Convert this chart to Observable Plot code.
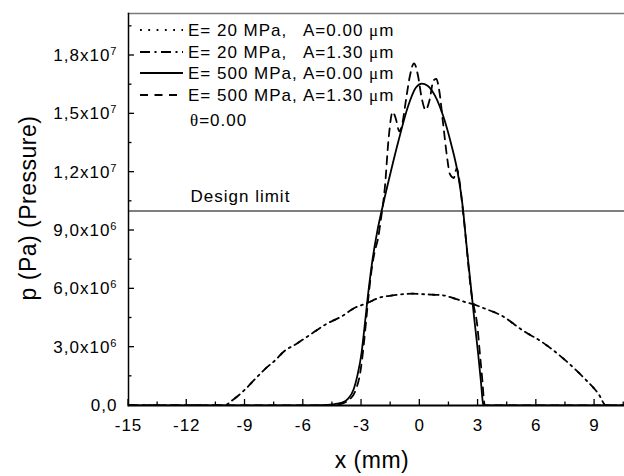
<!DOCTYPE html>
<html><head><meta charset="utf-8">
<script src="https://cdn.jsdelivr.net/npm/d3@7"></script>
<script src="https://cdn.jsdelivr.net/npm/@observablehq/plot@0.6"></script>
<style>
body{margin:0;background:#fff;}
#wrap{position:relative;width:624px;height:476px;overflow:hidden;}
#wrap svg{position:absolute;left:0;top:0;}
</style></head><body><div id="wrap"></div>
<script>
// ---- data (x in mm, p in Pa) ----
const seriesNames = ["E= 20 MPa,", "E= 20 MPa,", "E= 500 MPa,", "E= 500 MPa,"];
const seriesA = ["A=0.00", "A=1.30", "A=0.00", "A=1.30"];
const thetaText = "0.00";
const xTitle = "x (mm)";
const yTitle = "p (Pa) (Pressure)";
const designLabel = "Design limit";

// E=20 MPa, A=0.00 (dotted) – lies on top of the A=1.30 curve
const xDotted = [-15,-10.1,-9.6,-9.0,-8.5,-8.0,-7.4,-7.0,-6.4,-5.5,-4.85,-4.0,-3.3,-2.8,-2.0,-1.4,-0.4,0.6,1.1,1.8,2.3,2.7,3.3,4.2,5.3,6.3,7.5,8.5,9.2,9.6,15];
const pDotted = [0,0,0.31e6,0.82e6,1.34e6,1.85e6,2.37e6,2.78e6,3.14e6,3.74e6,4.17e6,4.6e6,5.05e6,5.23e6,5.57e6,5.66e6,5.75e6,5.70e6,5.68e6,5.5e6,5.33e6,5.23e6,5.0e6,4.63e6,3.86e6,3.26e6,2.32e6,1.37e6,0.6e6,0,0];

// E=20 MPa, A=1.30 (dash-dot)
const xDashDot = [-15,-10.1,-9.6,-9.0,-8.5,-8.0,-7.4,-7.0,-6.4,-5.5,-4.85,-4.0,-3.3,-2.8,-2.0,-1.4,-0.4,0.6,1.1,1.8,2.3,2.7,3.3,4.2,5.3,6.3,7.5,8.5,9.2,9.6,15];
const pDashDot = [0,0,0.31e6,0.82e6,1.34e6,1.85e6,2.37e6,2.78e6,3.14e6,3.74e6,4.17e6,4.6e6,5.05e6,5.23e6,5.57e6,5.66e6,5.75e6,5.70e6,5.68e6,5.5e6,5.33e6,5.23e6,5.0e6,4.63e6,3.86e6,3.26e6,2.32e6,1.37e6,0.6e6,0,0];

// E=500 MPa, A=0.00 (solid)
const xSolid = [-15,-6,-5,-4.5,-4,-3.7,-3.4,-3.2,-3.0,-2.85,-2.7,-2.45,-2.2,-1.9,-1.5,-1.1,-0.6,-0.2,0.1,0.4,0.8,1.2,1.6,2.0,2.2,2.4,2.6,2.8,3.0,3.15,3.24,3.28,15];
const pSolid = [0,0,0.02e6,0.06e6,0.15e6,0.34e6,0.85e6,1.6e6,2.7e6,4.0e6,5.4e6,7.4e6,8.9e6,1.03e7,1.2e7,1.36e7,1.54e7,1.635e7,1.655e7,1.645e7,1.59e7,1.49e7,1.35e7,1.17e7,1.03e7,8.3e6,6.4e6,4.5e6,2.7e6,1.2e6,0.2e6,0,0];

// E=500 MPa, A=1.30 (dashed)
const xDashed = [-15,-5,-4.2,-3.7,-3.3,-3.05,-2.9,-2.75,-2.6,-2.45,-2.3,-2.15,-2.0,-1.8,-1.6,-1.4,-1.25,-1.05,-0.9,-0.7,-0.5,-0.3,-0.1,0.1,0.3,0.5,0.7,0.85,1.0,1.2,1.4,1.55,1.75,1.9,2.05,2.2,2.35,2.5,2.65,2.8,2.95,3.1,3.22,3.3,3.35,15];
const pDashed = [0,0,0.05e6,0.25e6,0.8e6,1.8e6,3.0e6,4.5e6,6.0e6,7.2e6,8.0e6,8.6e6,9.6e6,1.12e7,1.38e7,1.51e7,1.48e7,1.41e7,1.45e7,1.58e7,1.7e7,1.76e7,1.7e7,1.58e7,1.52e7,1.57e7,1.67e7,1.68e7,1.62e7,1.45e7,1.28e7,1.19e7,1.17e7,1.22e7,1.15e7,1.02e7,8.8e6,7.2e6,5.8e6,5.0e6,4.2e6,2.6e6,1.3e6,0.3e6,0,0];

const designLimit = 1.0e7;
const xMajor = [-15,-12,-9,-6,-3,0,3,6,9];
const xMinor = [-13.5,-10.5,-7.5,-4.5,-1.5,1.5,4.5,7.5,10.5];
const yMajor = [0,3e6,6e6,9e6,1.2e7,1.5e7,1.8e7];
const yMinor = [1.5e6,4.5e6,7.5e6,1.05e7,1.35e7,1.65e7,1.95e7];
const yTickLabels = ["0,0","3,0x10^6","6,0x10^6","9,0x10^6","1,2x10^7","1,5x10^7","1,8x10^7"];

const toRows = (xs, ps) => xs.map((x, i) => ({x, p: ps[i]}));
// plot dash patterns (dotted one phased to sit inside the coincident dash-dot dashes)
const plotDash = ["2,19", "10,4.5,2,4.5", null, "8,6"];
const plotDashOffset = [-4, 0, 0, 0];
const legendDash = ["1.8,6.5", "10,4.5,2,4.5", null, "8,6.5"];
const allSeries = [[xDotted,pDotted],[xDashDot,pDashDot],[xSolid,pSolid],[xDashed,pDashed]];

const FONT = "'Liberation Sans', Arial, sans-serif";
const FS = 17, LS = "1px";
const chart = Plot.plot({
  width: 624, height: 476,
  marginLeft: 128, marginRight: 0, marginTop: 13, marginBottom: 71,
  style: {fontFamily: FONT, fontSize: FS + "px", color: "#000", background: "#fff", overflow: "visible", letterSpacing: LS},
  x: {domain: [-15, 10.54]},
  y: {domain: [0, 2.016e7]},
  marks: [
    Plot.frame({anchor: "top", stroke: "#7a7a7a", strokeWidth: 1.5}),
    Plot.ruleY([designLimit], {stroke: "#555", strokeWidth: 1.4}),
    Plot.text([designLimit], {y: d => d, frameAnchor: "left", dx: 62, dy: -15, text: () => designLabel, textAnchor: "start", fontSize: FS}),
    ...allSeries.map(([xs, ps], i) => Plot.line(toRows(xs, ps), {
      x: "x", y: "p", stroke: "#000", strokeWidth: 1.8, curve: "monotone-x",
      strokeDasharray: plotDash[i] || undefined, strokeDashoffset: plotDashOffset[i], clip: true
    })),
    Plot.axisX({ticks: xMajor, tickSize: 0, tickPadding: 13, tickFormat: d => String(d), label: null, fontSize: FS}),
    Plot.axisY({ticks: yMajor, tickSize: 0, tickPadding: 11, tickFormat: d => yTickLabels[yMajor.indexOf(d)], label: null, fontSize: FS}),
    Plot.frame({anchor: "left", stroke: "#000", strokeWidth: 1.5}),
    Plot.frame({anchor: "bottom", stroke: "#000", strokeWidth: 2})
  ]
});
document.getElementById("wrap").appendChild(chart);

// superscripts on y tick labels
d3.select(chart).selectAll("text").each(function() {
  const t = this.textContent;
  if (this.childElementCount === 0 && /\^/.test(t)) {
    const [base, exp] = t.split("^");
    const sel = d3.select(this);
    sel.text(null);
    sel.append("tspan").text(base);
    sel.append("tspan").attr("dy", "-0.55em").attr("font-size", "0.65em").text(exp);
  }
});

// inward tick marks, positioned with the chart's own scales
const sx = chart.scale("x"), sy = chart.scale("y");
const x0 = sx.apply(sx.domain[0]), y0 = sy.apply(sy.domain[0]);
const ov = d3.select("#wrap").append("svg").attr("width", 624).attr("height", 476)
  .style("font-family", FONT).style("font-size", FS + "px").style("letter-spacing", LS);
const tk = ov.append("g").attr("stroke", "#000").attr("stroke-width", 1.3);
xMajor.forEach(v => { const px = sx.apply(v); tk.append("line").attr("x1", px).attr("x2", px).attr("y1", y0).attr("y2", y0 - 6); });
xMinor.forEach(v => { const px = sx.apply(v); tk.append("line").attr("x1", px).attr("x2", px).attr("y1", y0).attr("y2", y0 - 3.5); });
yMajor.forEach(v => { const py = sy.apply(v); tk.append("line").attr("x1", x0).attr("x2", x0 + 6).attr("y1", py).attr("y2", py); });
yMinor.forEach(v => { const py = sy.apply(v); tk.append("line").attr("x1", x0).attr("x2", x0 + 3.5).attr("y1", py).attr("y2", py); });

// axis titles
ov.append("text").attr("x", 372).attr("y", 460).attr("dy", "0.35em").attr("text-anchor", "middle")
  .style("font-size", "23px").style("letter-spacing", "0.5px").text(xTitle);
ov.append("text").attr("transform", "translate(28,208) rotate(-90)").attr("dy", "0.35em").attr("text-anchor", "middle")
  .style("font-size", "23px").style("letter-spacing", "0.5px").text(yTitle);

// legend
const rowY = [30, 52, 73, 95];
seriesNames.forEach((name, i) => {
  const g = ov.append("g").attr("transform", `translate(0,${rowY[i]})`);
  g.append("line").attr("x1", 140).attr("x2", 183).attr("y1", 0).attr("y2", 0)
    .attr("stroke", "#000").attr("stroke-width", 1.8)
    .attr("stroke-dasharray", legendDash[i] || null);
  g.append("text").attr("x", 188).attr("dy", "0.35em").text(name);
  const a = g.append("text").attr("x", 303).attr("dy", "0.35em");
  a.append("tspan").text(seriesA[i] + " ");
  a.append("tspan").attr("font-family", "'Liberation Serif', serif").text("μ");
  a.append("tspan").text("m");
});
const th = ov.append("text").attr("x", 190).attr("y", 120).attr("dy", "0.35em");
th.append("tspan").attr("font-family", "'Liberation Serif', serif").text("θ");
th.append("tspan").text("=" + thetaText);
</script>
</body></html>
